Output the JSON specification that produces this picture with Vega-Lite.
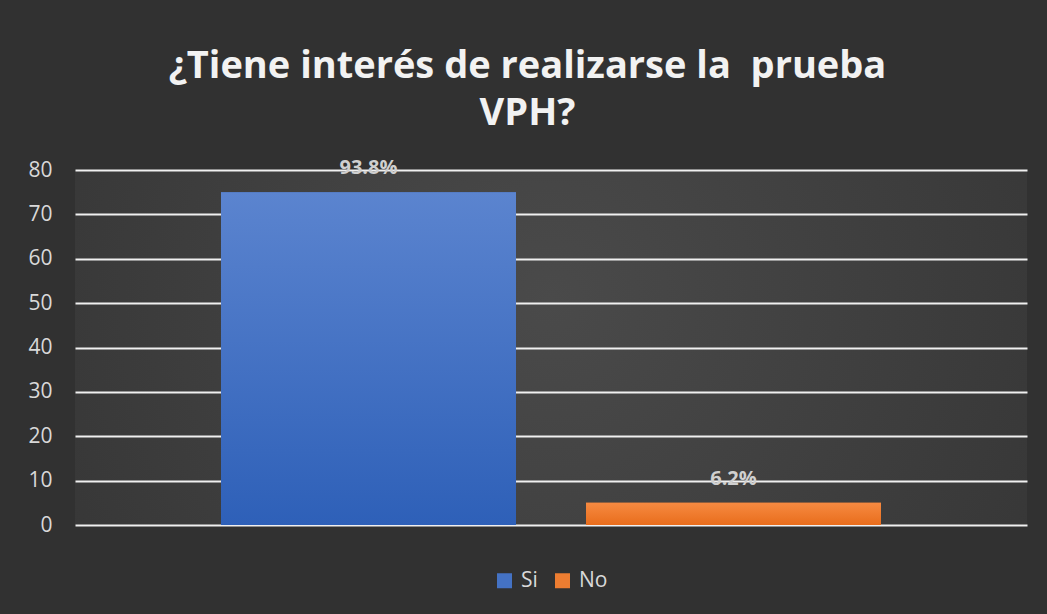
{
  "$schema": "https://vega.github.io/schema/vega-lite/v6.json",
  "width": 952,
  "height": 355,
  "autosize": {"type": "none"},
  "padding": {"left": 75, "top": 170, "right": 20, "bottom": 89},
  "background": "#313131",
  "config": {
    "view": {
      "stroke": null,
      "fill": {
        "gradient": "radial",
        "x1": 0.5, "y1": 0.45, "r1": 0,
        "x2": 0.5, "y2": 0.45, "r2": 0.75,
        "stops": [
          {"offset": 0, "color": "#4a4a4a"},
          {"offset": 1, "color": "#313131"}
        ]
      }
    },
    "legend": {"layout": {"bottom": {"anchor": "middle"}}}
  },
  "title": {
    "text": ["¿Tiene interés de realizarse la\u00a0 prueba", "VPH?"],
    "anchor": "middle",
    "frame": "bounds",
    "font": "Open Sans",
    "fontSize": 38,
    "fontWeight": "bold",
    "color": "#f2f2f2",
    "lineHeight": 47,
    "offset": 25
  },
  "data": {
    "values": [
      {"respuesta": "Si", "valor": 75, "etiqueta": "93.8%"},
      {"respuesta": "No", "valor": 5, "etiqueta": "6.2%"}
    ]
  },
  "encoding": {
    "x": {
      "field": "respuesta",
      "type": "nominal",
      "sort": ["Si", "No"],
      "scale": {"paddingInner": 0.1918, "paddingOuter": 0.4},
      "axis": null
    },
    "y": {
      "field": "valor",
      "type": "quantitative",
      "scale": {"domain": [0, 80], "nice": false},
      "axis": {
        "title": null,
        "values": [0, 10, 20, 30, 40, 50, 60, 70, 80],
        "domain": false,
        "ticks": false,
        "labelPadding": 23,
        "labelFont": "Open Sans",
        "labelFontSize": 21,
        "labelColor": "#d9d9d9",
        "gridColor": "#f0f0f0",
        "gridWidth": 2,
        "gridOpacity": 1
      }
    }
  },
  "layer": [
    {
      "mark": {"type": "bar"},
      "encoding": {
        "color": {
          "field": "respuesta",
          "type": "nominal",
          "scale": {"domain": ["Si", "No"], "range": ["#4472c4", "#ed7d31"]},
          "legend": {
            "title": null,
            "orient": "bottom",
            "direction": "horizontal",
            "symbolType": "square",
            "symbolSize": 225,
            "symbolStrokeWidth": 0,
            "labelFont": "Open Sans",
            "labelFontSize": 21,
            "labelColor": "#d9d9d9",
            "columnPadding": 14,
            "labelOffset": 6,
            "offset": 45
          }
        }
      }
    },
    {
      "transform": [{"filter": "datum.respuesta === 'Si'"}],
      "mark": {
        "type": "bar",
        "color": {"gradient": "linear", "x1": 0, "y1": 0, "x2": 0, "y2": 1,
          "stops": [{"offset": 0, "color": "#5b84cf"}, {"offset": 1, "color": "#2e60b8"}]}
      }
    },
    {
      "transform": [{"filter": "datum.respuesta === 'No'"}],
      "mark": {
        "type": "bar",
        "color": {"gradient": "linear", "x1": 0, "y1": 0, "x2": 0, "y2": 1,
          "stops": [{"offset": 0, "color": "#f68a41"}, {"offset": 1, "color": "#e96d1c"}]}
      }
    },
    {
      "mark": {
        "type": "text",
        "font": "Open Sans",
        "fontSize": 20,
        "fontWeight": "bold",
        "color": "#d0d0d0",
        "baseline": "middle",
        "dy": -24
      },
      "encoding": {
        "text": {"field": "etiqueta"}
      }
    }
  ]
}
